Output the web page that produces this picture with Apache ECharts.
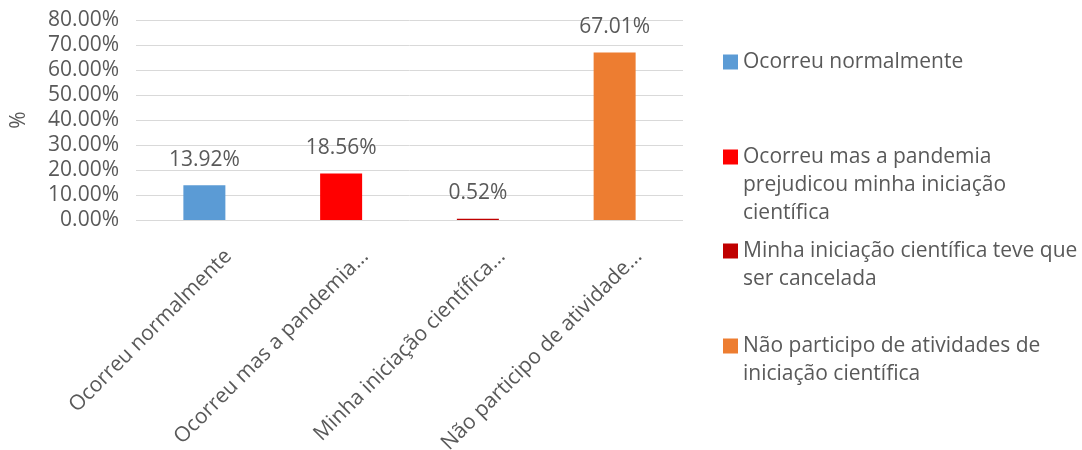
<!DOCTYPE html>
<html>
<head>
<meta charset="utf-8">
<script src="https://cdn.jsdelivr.net/npm/echarts@6/dist/echarts.min.js"></script>
<style>
  html, body { margin: 0; padding: 0; background: #fff; }
  #chart { width: 1082px; height: 450px; }
</style>
</head>
<body>
<div id="chart"></div>
<script>
// categories on the x axis (as truncated in the picture)
var categories = ['Ocorreu normalmente', 'Ocorreu mas a pandemia...', 'Minha iniciação científica...', 'Não participo de atividade...'];
// full names shown in the legend
var seriesNames = [
    'Ocorreu normalmente',
    'Ocorreu mas a pandemia\nprejudicou minha iniciação\ncientífica',
    'Minha iniciação científica teve que\nser cancelada',
    'Não participo de atividades de\niniciação científica'
];
var values = [13.92, 18.56, 0.52, 67.01];
var colors = ['#5b9bd5', '#ff0000', '#c00000', '#ed7d31'];
var yTicks = { min: 0, max: 80, interval: 10 };

var font = 'Open Sans';
var fontSize = 21;
var textColor = '#595959';
var lineH = 28;
// y centre of the first line of each legend entry
var legendRows = [57, 152, 246, 341];

var chart = echarts.init(document.getElementById('chart'));

var series = values.map(function (v, i) {
    var data = values.map(function (x, j) { return j === i ? x : null; });
    return {
        name: seriesNames[i],
        type: 'bar',
        stack: 'all',
        barWidth: 42,
        data: data,
        itemStyle: { color: colors[i] },
        label: {
            show: true,
            position: 'top',
            distance: 15,
            color: textColor,
            fontFamily: font,
            fontSize: fontSize,
            formatter: function (p) { return p.value.toFixed(2) + '%'; }
        }
    };
});

// one legend per entry; blank lines in front keep the square level with the first text line
var legends = seriesNames.map(function (name, i) {
    var n = name.split('\n').length;
    return {
        orient: 'vertical',
        left: 718,
        top: legendRows[i] - 14 * (2 * n - 1),
        itemWidth: 15,
        itemHeight: 15,
        itemGap: 0,
        icon: 'rect',
        selectedMode: false,
        data: [name],
        formatter: function (s) {
            return new Array(n).join('\n') + s;
        },
        textStyle: {
            color: textColor,
            fontFamily: font,
            fontSize: fontSize,
            lineHeight: lineH
        }
    };
});

var option = {
    animation: false,
    legend: legends,
    grid: { left: 136, right: 399, top: 20, bottom: 230, outerBoundsMode: 'none' },
    xAxis: {
        type: 'category',
        data: categories,
        axisLine: { show: false },
        axisTick: { show: false },
        axisLabel: {
            rotate: 45,
            interval: 0,
            margin: 9,
            verticalAlign: 'top',
            lineHeight: 28,
            padding: [20, 0, 0, 0],
            color: textColor,
            fontFamily: font,
            fontSize: fontSize
        }
    },
    yAxis: {
        type: 'value',
        min: yTicks.min,
        max: yTicks.max,
        interval: yTicks.interval,
        name: '%',
        nameLocation: 'middle',
        nameRotate: 90,
        nameGap: 106,
        nameTextStyle: { color: textColor, fontFamily: font, fontSize: fontSize },
        axisLine: { show: false },
        axisTick: { show: false },
        splitLine: { lineStyle: { color: '#d9d9d9', width: 1 } },
        axisLabel: {
            margin: 17,
            color: textColor,
            fontFamily: font,
            fontSize: fontSize,
            formatter: function (v) { return v.toFixed(2) + '%'; }
        }
    },
    series: series
};

chart.setOption(option);
</script>
</body>
</html>
